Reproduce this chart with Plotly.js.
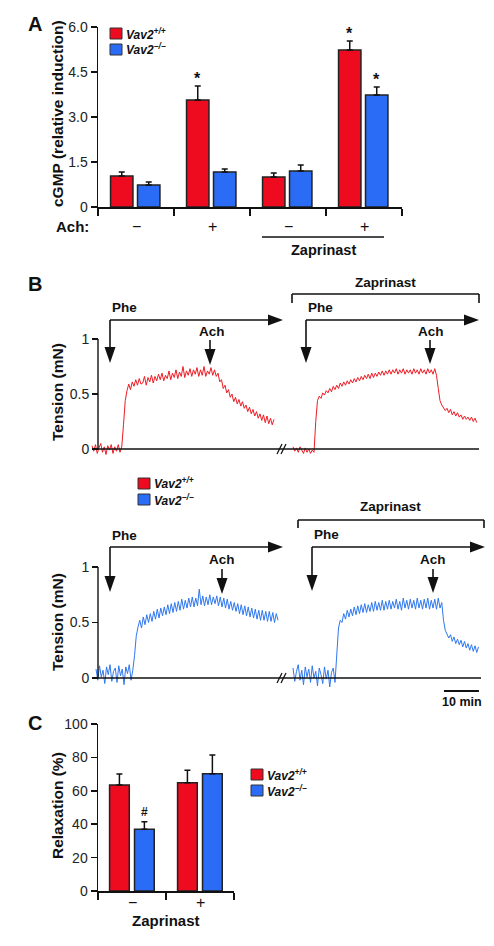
<!DOCTYPE html>
<html><head><meta charset="utf-8">
<script src="https://cdn.plot.ly/plotly-3.0.1.min.js"></script>
<style>html,body{margin:0;padding:0;background:#fff}#chart{width:494px;height:946px}</style>
</head><body><div id="chart"></div>
<script>
// ---------- Panel A data: cGMP (relative induction) ----------
const achLabels = ['\u2212', '+', '\u2212', '+'];
const wtA = [1.03, 3.57, 1.00, 5.23];
const wtAerr = [0.14, 0.46, 0.13, 0.30];
const koA = [0.73, 1.17, 1.20, 3.73];
const koAerr = [0.10, 0.10, 0.20, 0.27];
const wtAsig = ['', '*', '', '*'];
const koAsig = ['', '', '', '*'];
const aTickVals = [0, 1.5, 3, 4.5, 6];
const aTickText = ['0', '1.5', '3.0', '4.5', '6.0'];

// ---------- Panel B data: tension traces (mN), 2 samples per minute ----------
const sampleMin = 0.5;
const redLeftStart = 1.14, blueLeftStart = 2.29, rightStart = 58.57;
const redLeft = [0.03,-0.02,0.04,-0.04,0.01,0.05,-0.03,0.02,-0.05,0.03,
  -0.01,0.04,-0.04,0.02,-0.02,0.04,-0.03,0.02,0.22,0.44,
  0.53,0.59,0.54,0.61,0.57,0.63,0.58,0.64,0.59,0.60,
  0.66,0.58,0.65,0.61,0.67,0.60,0.66,0.62,0.68,0.63,
  0.69,0.62,0.67,0.64,0.71,0.63,0.69,0.65,0.72,0.64,
  0.70,0.66,0.75,0.65,0.71,0.67,0.73,0.66,0.72,0.68,
  0.74,0.66,0.72,0.67,0.75,0.66,0.71,0.68,0.74,0.67,
  0.72,0.66,0.69,0.61,0.63,0.55,0.58,0.51,0.54,0.47,
  0.50,0.43,0.47,0.41,0.45,0.39,0.43,0.37,0.40,0.34,
  0.38,0.32,0.36,0.30,0.34,0.28,0.32,0.26,0.31,0.24,
  0.30,0.23,0.28,0.22,0.27];
const redRight = [0.02,-0.02,0.01,-0.03,0.02,-0.01,-0.04,0.01,-0.03,0.00,
  -0.04,-0.01,-0.03,0.25,0.44,0.48,0.46,0.51,0.49,0.53,
  0.51,0.55,0.52,0.57,0.54,0.58,0.55,0.60,0.57,0.61,
  0.58,0.62,0.59,0.63,0.60,0.64,0.61,0.65,0.62,0.66,
  0.63,0.67,0.64,0.68,0.64,0.69,0.65,0.69,0.66,0.70,
  0.67,0.71,0.67,0.71,0.68,0.72,0.68,0.72,0.69,0.73,
  0.68,0.72,0.69,0.73,0.68,0.72,0.69,0.72,0.68,0.73,
  0.69,0.72,0.68,0.73,0.69,0.72,0.68,0.73,0.69,0.72,
  0.68,0.73,0.67,0.55,0.44,0.40,0.38,0.35,0.37,0.33,
  0.36,0.31,0.34,0.30,0.33,0.29,0.31,0.27,0.30,0.27,
  0.29,0.26,0.29,0.25,0.28,0.24];
const blueLeft = [0.08,-0.02,0.11,0.01,0.07,-0.05,0.10,0.03,0.12,-0.03,
  0.06,0.09,-0.04,0.11,0.02,0.08,-0.06,0.10,0.04,0.12,
  -0.02,0.07,0.20,0.38,0.46,0.52,0.45,0.55,0.48,0.57,
  0.50,0.58,0.51,0.60,0.53,0.62,0.54,0.63,0.56,0.64,
  0.57,0.66,0.58,0.67,0.59,0.68,0.60,0.69,0.61,0.71,
  0.62,0.70,0.63,0.72,0.64,0.73,0.64,0.72,0.65,0.80,
  0.66,0.74,0.65,0.73,0.66,0.75,0.66,0.73,0.67,0.74,
  0.65,0.73,0.64,0.72,0.63,0.71,0.62,0.69,0.61,0.68,
  0.60,0.67,0.58,0.66,0.57,0.65,0.56,0.64,0.55,0.63,
  0.54,0.62,0.53,0.61,0.52,0.61,0.52,0.60,0.51,0.60,
  0.51,0.59,0.50,0.58,0.52];
const blueRight = [0.09,-0.03,0.06,0.12,-0.02,0.07,-0.06,0.10,0.01,0.08,
  -0.04,0.11,0.00,0.06,-0.07,0.09,0.03,-0.05,0.10,-0.01,
  0.07,-0.08,0.05,0.09,-0.04,0.25,0.45,0.52,0.50,0.58,
  0.53,0.61,0.55,0.62,0.56,0.64,0.57,0.65,0.58,0.66,
  0.59,0.67,0.59,0.66,0.60,0.68,0.60,0.69,0.61,0.68,
  0.61,0.70,0.61,0.69,0.62,0.70,0.62,0.69,0.63,0.71,
  0.62,0.69,0.61,0.72,0.63,0.70,0.62,0.71,0.63,0.70,
  0.62,0.72,0.63,0.70,0.62,0.71,0.63,0.72,0.62,0.70,
  0.63,0.71,0.62,0.72,0.63,0.68,0.52,0.43,0.39,0.36,
  0.39,0.33,0.37,0.31,0.35,0.30,0.34,0.28,0.33,0.27,
  0.31,0.25,0.30,0.24,0.29,0.23,0.28];
const bTickVals = [0, 0.5, 1];
const bTickText = ['0', '0.5', '1'];
const scaleBarMin = 10;

// ---------- Panel C data: relaxation (%) ----------
const zapLabels = ['\u2212', '+'];
const wtC = [63.5, 64.8];
const wtCerr = [6.5, 7.5];
const koC = [37.0, 70.2];
const koCerr = [4.5, 11.2];
const wtCsig = ['', ''];
const koCsig = ['#', ''];
const cTickVals = [0, 20, 40, 60, 80, 100];

// ---------- helpers / styling ----------
const W = 494, H = 946;
const px = x => x / W;
const py = y => 1 - y / H;
const FONT = 'Liberation Sans, Arial, Helvetica, sans-serif';
const INK = '#111';
const RED = '#ee0a1f', BLUE = '#2a6cf6';
const TRED = '#ee1c25', TBLUE = '#2f78f0';

const shapes = [];
const annotations = [];
function L(x0, y0, x1, y1, w) {
  shapes.push({type:'line', xref:'paper', yref:'paper', x0:px(x0), y0:py(y0), x1:px(x1), y1:py(y1),
    line:{color:INK, width:w || 1.6}});
}
function downHead(x, tip) {
  shapes.push({type:'path', xref:'paper', yref:'paper',
    path:`M${px(x-5.5)},${py(tip-16)} L${px(x+5.5)},${py(tip-16)} L${px(x)},${py(tip)} Z`,
    fillcolor:INK, line:{width:0}});
}
function rightHead(tip, y) {
  shapes.push({type:'path', xref:'paper', yref:'paper',
    path:`M${px(tip-15)},${py(y-5.5)} L${px(tip-15)},${py(y+5.5)} L${px(tip)},${py(y)} Z`,
    fillcolor:INK, line:{width:0}});
}
function pheArrow(x, y, downTip, rightTip) {
  L(x, y, x, downTip - 12); L(x, y, rightTip - 12, y);
  downHead(x, downTip); rightHead(rightTip, y);
}
function achArrow(x, y0, tip) { L(x, y0, x, tip - 12); downHead(x, tip); }
function bracket(x0, x1, y, y2) { L(x0, y, x1, y); L(x0, y, x0, y2); L(x1, y, x1, y2); }
function txt(text, x, y, size, opts) {
  annotations.push(Object.assign({text, xref:'paper', yref:'paper', x:px(x), y:py(y),
    xanchor:'center', yanchor:'middle', showarrow:false,
    font:{family:FONT, size:size, color:INK}}, opts || {}));
}
function sq(x0, y0, x1, y1, c) {
  shapes.push({type:'rect', xref:'paper', yref:'paper', x0:px(x0), x1:px(x1), y0:py(y0), y1:py(y1),
    fillcolor:c, line:{color:'#333', width:1}});
}
function legend(x, y) {
  sq(x, y, x + 12, y + 11, RED);
  sq(x, y + 16, x + 12, y + 27, BLUE);
  txt('<b><i>Vav2</i></b><sup><b><i>+/+</i></b></sup>', x + 14, y + 5.5, 12, {xanchor:'left'});
  txt('<b><i>Vav2</i></b><sup><b><i>\u2212/\u2212</i></b></sup>', x + 14, y + 21.5, 12, {xanchor:'left'});
}

const traces = [];
// Panel A bars
const wA = 0.295, offRA = -0.335, offBA = 0.02;
const idxA = achLabels.map((_, i) => i);
function errObj(arr) {
  return {type:'data', array:arr, arrayminus:arr.map(() => 0), symmetric:false,
    color:INK, thickness:1.5, width:3};
}
traces.push({type:'bar', x:idxA, y:wtA, width:wA, offset:offRA, xaxis:'x', yaxis:'y',
  marker:{color:RED, line:{color:'#222', width:1.5}}, error_y:errObj(wtAerr), hoverinfo:'none'});
traces.push({type:'bar', x:idxA, y:koA, width:wA, offset:offBA, xaxis:'x', yaxis:'y',
  marker:{color:BLUE, line:{color:'#222', width:1.5}}, error_y:errObj(koAerr), hoverinfo:'none'});
idxA.forEach(i => {
  if (wtAsig[i]) annotations.push({text:'<b>' + wtAsig[i] + '</b>', xref:'x', yref:'y', x:i + offRA + wA/2,
    y:wtA[i] + wtAerr[i], xanchor:'center', yanchor:'bottom', showarrow:false, yshift:-3, font:{family:FONT, size:16, color:INK}});
  if (koAsig[i]) annotations.push({text:'<b>' + koAsig[i] + '</b>', xref:'x', yref:'y', x:i + offBA + wA/2,
    y:koA[i] + koAerr[i], xanchor:'center', yanchor:'bottom', showarrow:false, yshift:-3, font:{family:FONT, size:16, color:INK}});
  annotations.push({text:achLabels[i], xref:'x', yref:'paper', x:i, y:py(226), xanchor:'center', yanchor:'middle',
    showarrow:false, font:{family:FONT, size:16, color:INK}});
});

// Panel B traces
const tRL = redLeft.map((_, i) => redLeftStart + i * sampleMin);
const tRR = redRight.map((_, i) => rightStart + i * sampleMin);
const tBL = blueLeft.map((_, i) => blueLeftStart + i * sampleMin);
const tBR = blueRight.map((_, i) => rightStart + i * sampleMin);
const lineStyle = c => ({color:c, width:1});
traces.push({type:'scatter', mode:'lines', x:tRL, y:redLeft, xaxis:'x2', yaxis:'y2', line:lineStyle(TRED), hoverinfo:'none'});
traces.push({type:'scatter', mode:'lines', x:tRR, y:redRight, xaxis:'x2', yaxis:'y2', line:lineStyle(TRED), hoverinfo:'none'});
traces.push({type:'scatter', mode:'lines', x:tBL, y:blueLeft, xaxis:'x3', yaxis:'y3', line:lineStyle(TBLUE), hoverinfo:'none'});
traces.push({type:'scatter', mode:'lines', x:tBR, y:blueRight, xaxis:'x3', yaxis:'y3', line:lineStyle(TBLUE), hoverinfo:'none'});

// Panel C bars
const wC = 0.29, offRC = -0.33, offBC = 0.037;
const idxC = zapLabels.map((_, i) => i);
traces.push({type:'bar', x:idxC, y:wtC, width:wC, offset:offRC, xaxis:'x4', yaxis:'y4',
  marker:{color:RED, line:{color:'#222', width:1.5}}, error_y:errObj(wtCerr), hoverinfo:'none'});
traces.push({type:'bar', x:idxC, y:koC, width:wC, offset:offBC, xaxis:'x4', yaxis:'y4',
  marker:{color:BLUE, line:{color:'#222', width:1.5}}, error_y:errObj(koCerr), hoverinfo:'none'});
idxC.forEach(i => {
  if (wtCsig[i]) annotations.push({text:'<b>' + wtCsig[i] + '</b>', xref:'x4', yref:'y4', x:i + offRC + wC/2,
    y:wtC[i] + wtCerr[i], xanchor:'center', yanchor:'bottom', showarrow:false, yshift:1, font:{family:FONT, size:12, color:INK}});
  if (koCsig[i]) annotations.push({text:'<b>' + koCsig[i] + '</b>', xref:'x4', yref:'y4', x:i + offBC + wC/2,
    y:koC[i] + koCerr[i], xanchor:'center', yanchor:'bottom', showarrow:false, yshift:1, font:{family:FONT, size:12, color:INK}});
  annotations.push({text:zapLabels[i], xref:'x4', yref:'paper', x:i, y:py(902), xanchor:'center', yanchor:'middle',
    showarrow:false, font:{family:FONT, size:16, color:INK}});
});

// ---------- static text / decorations ----------
txt('<b>A</b>', 35, 23.5, 20);
txt('<b>B</b>', 35, 284, 20);
txt('<b>C</b>', 35, 723, 20);
txt('<b>cGMP (relative induction)</b>', 57, 114, 15.5, {textangle:-90});
txt('<b>Tension (mN)</b>', 57, 392, 15.5, {textangle:-90});
txt('<b>Tension (mN)</b>', 57, 622, 15.5, {textangle:-90});
txt('<b>Relaxation (%)</b>', 57, 806, 15.5, {textangle:-90});

// Panel A extras
txt('<b>Ach:</b>', 91, 226, 15, {xanchor:'right'});
L(262, 237, 384, 237, 1.6);
txt('<b>Zaprinast</b>', 323, 250, 14.5);
legend(110, 28);

// Panel B top
txt('<b>Zaprinast</b>', 385, 283, 13.5);
bracket(292, 479, 294, 303);
txt('<b>Phe</b>', 110, 307, 13.5, {xanchor:'left'});
txt('<b>Phe</b>', 306, 307, 13.5, {xanchor:'left'});
pheArrow(110, 320, 363, 283);
pheArrow(306, 320, 363, 479);
txt('<b>Ach</b>', 212, 331, 13.5);
txt('<b>Ach</b>', 431, 331, 13.5);
achArrow(210, 340, 365);
achArrow(430, 340, 364);

// Panel B bottom
legend(138, 478);
txt('<b>Zaprinast</b>', 390, 507, 13.5);
bracket(298, 484, 520, 528);
txt('<b>Phe</b>', 110, 535, 13.5, {xanchor:'left'});
txt('<b>Phe</b>', 312, 534, 13.5, {xanchor:'left'});
pheArrow(110, 547, 592, 283);
pheArrow(312, 547, 591, 485);
txt('<b>Ach</b>', 222, 559, 13.5);
txt('<b>Ach</b>', 433, 559, 13.5);
achArrow(222, 569, 594);
achArrow(433, 569, 593);

// Baselines, y-axis lines and breaks for B
[['y2', 479], ['y3', 481]].forEach(([yr, xe]) => {
  shapes.push({type:'line', xref:'paper', yref:yr, x0:px(98), x1:px(xe), y0:0, y1:0, line:{color:INK, width:1.4}});
  shapes.push({type:'line', xref:'paper', yref:yr, x0:px(98), x1:px(98), y0:0, y1:1, line:{color:INK, width:1.4}});
});
L(277, 454, 282, 444, 1.2); L(281, 454, 286, 444, 1.2);
L(277, 683, 282, 673, 1.2); L(281, 683, 286, 673, 1.2);
// scale bar (10 min) on the time axis
shapes.push({type:'line', xref:'x3', yref:'paper', x0:101.7, x1:101.7 + scaleBarMin, y0:py(691), y1:py(691),
  line:{color:INK, width:2}});
txt('<b>' + scaleBarMin + ' min</b>', 462, 702, 12.5);

// Panel C extras
txt('<b>Zaprinast</b>', 166, 920, 15);
legend(251, 769);

// ---------- axes ----------
const baseAxis = {showgrid:false, zeroline:false, fixedrange:true, color:INK,
  tickfont:{family:FONT, size:14, color:'#222'}};
const bRange = [0, (484 - 88) / 3.5];
const layout = {
  width:W, height:H, margin:{l:0, r:0, t:0, b:0}, autosize:false,
  paper_bgcolor:'#fff', plot_bgcolor:'rgba(0,0,0,0)', showlegend:false, barmode:'overlay',
  font:{family:FONT, color:INK, size:14},
  xaxis: Object.assign({}, baseAxis, {domain:[px(98), px(402)], range:[-0.5, 3.5], anchor:'y',
    showline:true, linecolor:INK, linewidth:1.5, ticks:'outside', ticklen:7, tickwidth:1.5, tickcolor:INK,
    tickvals:[-0.5, 0.5, 1.5, 2.5, 3.5], showticklabels:false}),
  yaxis: Object.assign({}, baseAxis, {domain:[py(207), py(27)], range:[0, 6], anchor:'x',
    showline:true, linecolor:INK, linewidth:1.5, ticks:'outside', ticklen:6, tickwidth:1.5, tickcolor:INK,
    tickvals:aTickVals, ticktext:aTickText}),
  xaxis2: Object.assign({}, baseAxis, {domain:[px(88), px(484)], range:bRange, anchor:'y2', visible:false}),
  yaxis2: Object.assign({}, baseAxis, {domain:[py(460), py(339)], range:[-0.1, 1], anchor:'free', position:px(98),
    showline:false, ticks:'outside', ticklen:6, tickwidth:1.4, tickcolor:INK, tickvals:bTickVals, ticktext:bTickText}),
  xaxis3: Object.assign({}, baseAxis, {domain:[px(88), px(484)], range:bRange, anchor:'y3', visible:false}),
  yaxis3: Object.assign({}, baseAxis, {domain:[py(689.1), py(567)], range:[-0.1, 1], anchor:'free', position:px(98),
    showline:false, ticks:'outside', ticklen:6, tickwidth:1.4, tickcolor:INK, tickvals:bTickVals, ticktext:bTickText}),
  xaxis4: Object.assign({}, baseAxis, {domain:[px(98), px(234)], range:[-0.5, 1.5], anchor:'y4',
    showline:true, linecolor:INK, linewidth:1.5, ticks:'outside', ticklen:7, tickwidth:1.5, tickcolor:INK,
    tickvals:[-0.5, 0.5, 1.5], showticklabels:false}),
  yaxis4: Object.assign({}, baseAxis, {domain:[py(891), py(724)], range:[0, 100], anchor:'x4',
    showline:true, linecolor:INK, linewidth:1.5, ticks:'outside', ticklen:6, tickwidth:1.5, tickcolor:INK,
    tickvals:cTickVals}),
  shapes, annotations
};
Plotly.newPlot('chart', traces, layout, {staticPlot:true, displayModeBar:false});
</script></body></html>
